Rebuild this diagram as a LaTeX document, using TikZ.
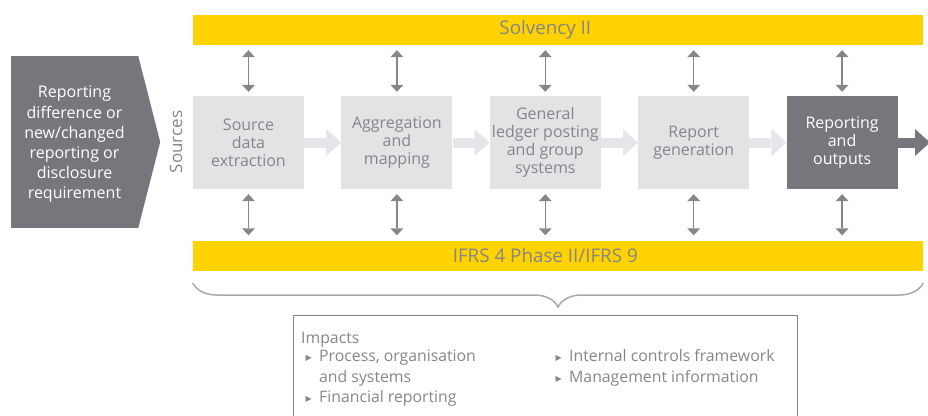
\documentclass[tikz,border=0pt]{standalone}
\usepackage{fontspec}
\setmainfont{Open Sans}
\newfontfamily\symfont{DejaVu Sans}
\usetikzlibrary{shapes,arrows.meta,positioning,decorations.pathreplacing}
\definecolor{eyyellow}{HTML}{FFD200}
\definecolor{darkgrey}{HTML}{76767C}
\definecolor{boxgrey}{HTML}{E3E3E6}
\definecolor{flowgrey}{HTML}{E6E6EA}
\definecolor{textgrey}{HTML}{85858B}
\definecolor{linkgrey}{HTML}{85858A}
\definecolor{bracegrey}{HTML}{A8A8AC}
\newcommand{\tri}{{\symfont\fontsize{8}{8}\selectfont\color{textgrey}\raisebox{1pt}{▶}}}

\begin{document}
\begin{tikzpicture}[x=1pt,y=-1pt,
	stage/.style={fill=boxgrey,text=textgrey,minimum width=111pt,minimum height=93pt,
		inner sep=0pt,align=center,font=\fontsize{16}{18}\selectfont},
	band/.style={fill=eyyellow,minimum width=730pt,minimum height=30pt,inner sep=0pt},
	bandtext/.style={text=textgrey,inner sep=0pt,font=\fontsize{18.8}{20}\selectfont},
	link/.style={draw=linkgrey,line width=1.3pt,
		{Triangle[width=13pt,length=7pt,line width=0pt]}-{Triangle[width=13pt,length=7pt,line width=0pt]}},
	flow/.style={draw=#1,line width=10pt,-{Triangle[width=27pt,length=15pt,line width=0pt]}},
	item/.style={anchor=base west,inner sep=0pt,text=textgrey,
		font=\fontsize{15.8}{20}\selectfont},
	bullet/.style={anchor=base east,inner sep=0pt}]
	\useasboundingbox (0,0) rectangle (928,415);

	% bands
	\node[band] (solv) at (558,30) {};
	\node[band] (ifrs) at (558,255.5) {};

	% stages
	\node[stage] (s1) at (248.5,142.5) {Source\\data\\extraction};
	\node[stage,right=37pt of s1] (s2) {Aggregation\\and\\mapping};
	\node[stage,right=37pt of s2] (s3) {General\\ledger posting\\and group\\systems};
	\node[stage,right=37pt of s3] (s4) {Report\\generation};
	\node[stage,right=37pt of s4,fill=darkgrey,text=white] (s5) {Reporting\\and\\outputs};

	\node[bandtext] (solvtext) at (s3 |- solv) {Solvency II};
	\node[bandtext] (ifrstext) at (s3 |- ifrs) {IFRS 4 Phase II/IFRS 9};

	\draw[flow=flowgrey] (s1) -- (s2);
	\draw[flow=flowgrey] (s2) -- (s3);
	\draw[flow=flowgrey] (s3) -- (s4);
	\draw[flow=flowgrey] (s4) -- (s5);
	\path (930,142.5) coordinate (out);
	\draw[flow=darkgrey] (s5.east) -- (out);

	\foreach \n in {1,...,5} {
		\draw[link,shorten <=5pt,shorten >=4pt] (s\n.north |- solv.south) -- (s\n.north);
		\draw[link,shorten <=5pt,shorten >=5pt] (s\n.south) -- (s\n.south |- ifrs.north);
	}

	% requirement chevron
	\node[fill=darkgrey,minimum width=127pt,minimum height=172pt,inner sep=0pt] (req) at (74.5,142) {};
	\fill[darkgrey] (req.north east) -- ([xshift=22pt]req.east) -- (req.south east) -- cycle;
	\node[text=white,align=center,inner sep=0pt,font=\fontsize{16}{20.2}\selectfont]
		(reqtext) at ([yshift=-2.5pt]req.center)
		{Reporting\\difference or\\new/changed\\reporting or\\disclosure\\requirement};
	\node[rotate=90,text=textgrey,font=\fontsize{17}{18}\selectfont] (src) at (176,142) {Sources};

	% brace and impacts
	\draw[bracegrey,line width=1.5pt,decorate,decoration={brace,mirror,amplitude=24pt}]
		(s1.west |- 0,283) -- (ifrs.east |- 0,283) coordinate (bend);
	\draw[linkgrey,line width=0.8pt] (293,430) -- (293,315) -- (797,315) -- (797,430);
	\node[item] (head) at (301,343) {Impacts};
	\node[item] (i1) at (319,361.5) {Process, organisation};
	\node[item] (i1b) at (319,382) {and systems};
	\node[item] (i2) at (319,402.5) {Financial reporting};
	\node[item] (i3) at (569,361.5) {Internal controls framework};
	\node[item] (i4) at (569,382) {Management information};
	\node[bullet] at ([xshift=-7pt]i1.base west) {\tri};
	\node[bullet] at ([xshift=-7pt]i2.base west) {\tri};
	\node[bullet] at ([xshift=-7pt]i3.base west) {\tri};
	\node[bullet] at ([xshift=-7pt]i4.base west) {\tri};
\end{tikzpicture}
\end{document}
